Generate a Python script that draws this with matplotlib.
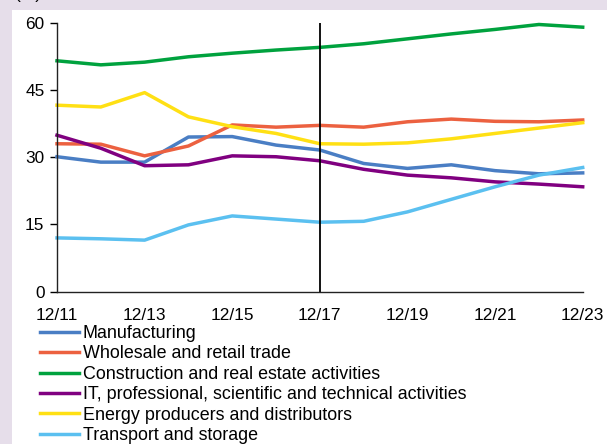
import matplotlib.pyplot as plt
from matplotlib.patches import Rectangle

plt.rcParams['font.family'] = ['Liberation Sans', 'DejaVu Sans']

years = ['12/11', '12/12', '12/13', '12/14', '12/15', '12/16', '12/17',
         '12/18', '12/19', '12/20', '12/21', '12/22', '12/23']

manufacturing = [30.1, 28.9, 28.9, 34.5, 34.6, 32.7, 31.6, 28.6, 27.5, 28.3, 27.0, 26.3, 26.5]
wholesale = [33.0, 32.9, 30.3, 32.5, 37.2, 36.7, 37.1, 36.7, 37.9, 38.5, 38.0, 37.9, 38.3]
construction = [51.5, 50.6, 51.2, 52.4, 53.2, 53.9, 54.5, 55.3, 56.4, 57.5, 58.5, 59.6, 59.0]
it_services = [34.9, 32.0, 28.1, 28.3, 30.3, 30.1, 29.2, 27.3, 26.0, 25.4, 24.5, 24.0, 23.4]
energy = [41.6, 41.2, 44.4, 39.0, 36.8, 35.3, 33.0, 32.9, 33.2, 34.1, 35.3, 36.5, 37.7]
transport = [12.0, 11.8, 11.5, 14.9, 16.9, 16.2, 15.5, 15.7, 17.8, 20.6, 23.4, 26.0, 27.7]

series = [
    ('Manufacturing', manufacturing, '#4a7ec4'),
    ('Wholesale and retail trade', wholesale, '#ec6140'),
    ('Construction and real estate activities', construction, '#00a23e'),
    ('IT, professional, scientific and technical activities', it_services, '#800080'),
    ('Energy producers and distributors', energy, '#ffe014'),
    ('Transport and storage', transport, '#5bc0f0'),
]

W, H = 607, 444
fig = plt.figure(figsize=(W / 100, H / 100), dpi=100, facecolor='#e6deea')
fig.patches.append(Rectangle((12 / W, 0), 1, 1 - 10 / H, transform=fig.transFigure,
                             facecolor='white', edgecolor='none', zorder=-10))
fig.text(28 / W, 1 + 5 / H, '(%)', fontsize=12.4, ha='center', va='center')

ax = fig.add_axes([57 / W, 1 - 291.7 / H, (582.7 - 57) / W, (291.7 - 22.7) / H])
ax.set_facecolor('none')

x = list(range(len(years)))
for name, vals, col in series:
    ax.plot(x, vals, color=col, lw=2.5, label=name, clip_on=False,
            solid_joinstyle='round')

# marker for the 12/17 break
ax.axvline(6, ymin=0, ymax=1, color='black', lw=1.3)

ax.set_xlim(0, 12)
ax.set_ylim(0, 60)
ax.set_yticks([0, 15, 30, 45, 60])
ax.set_xticks(x[::2])
ax.set_xticklabels(years[::2])
ax.tick_params(axis='y', length=5, width=1, labelsize=12.4, pad=4)
ax.tick_params(axis='x', length=0, labelsize=12.4, pad=12)
for s in ['top', 'right']:
    ax.spines[s].set_visible(False)
for s in ['left', 'bottom']:
    ax.spines[s].set_color('#222222')
    ax.spines[s].set_linewidth(1)

fig.legend(loc='upper left', bbox_to_anchor=(40 / W, 1 - 325 / H),
           frameon=False, fontsize=12.9, handlelength=2.2, handletextpad=0.2,
           labelspacing=0.19, borderpad=0, borderaxespad=0)

fig.savefig('out.png', dpi=100, facecolor=fig.get_facecolor())
